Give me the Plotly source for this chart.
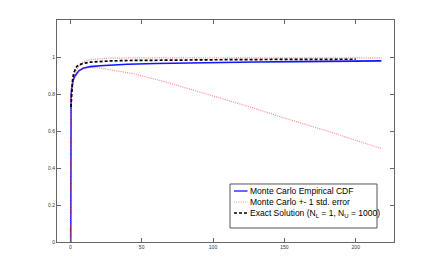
import plotly.graph_objects as go

# Monte Carlo empirical CDF (blue)
mc_x = [0.3, 0.3, 0.6, 1, 1.5, 2, 3, 4.5, 6, 9, 14, 21, 30, 40, 60, 80, 100, 130, 160, 190, 218]
mc_y = [0, 0.75, 0.80, 0.83, 0.855, 0.875, 0.895, 0.912, 0.925, 0.939, 0.948, 0.953, 0.957, 0.961, 0.965, 0.968, 0.970, 0.973, 0.975, 0.977, 0.979]

# +1 std. error (red dotted, upper)
up_x = [0.3, 0.3, 0.6, 1, 1.5, 2, 3, 4.5, 6, 9, 14, 20, 25, 40, 60, 100, 150, 218]
up_y = [0, 0.76, 0.81, 0.84, 0.865, 0.885, 0.91, 0.935, 0.952, 0.974, 0.986, 0.99, 0.993, 0.995, 0.995, 0.995, 0.995, 0.995]

# -1 std. error (red dotted, lower)
lo_x = [0.3, 0.3, 0.6, 1, 1.5, 2, 3, 4.5, 6.8, 10, 16, 21, 28, 35, 44, 55, 67, 80, 98, 126, 150, 180, 218]
lo_y = [0, 0.74, 0.79, 0.82, 0.845, 0.865, 0.885, 0.905, 0.932, 0.941, 0.943, 0.940, 0.933, 0.922, 0.910, 0.890, 0.865, 0.835, 0.795, 0.730, 0.670, 0.600, 0.505]

# Exact solution (black dashed)
ex_x = [0.5, 1, 1.7, 2.5, 3.5, 4.5, 6, 9, 14, 20, 28, 40, 60, 100, 150, 200]
ex_y = [0.73, 0.83, 0.885, 0.915, 0.935, 0.948, 0.956, 0.966, 0.972, 0.976, 0.979, 0.981, 0.983, 0.985, 0.987, 0.988]

x_ticks = [0, 50, 100, 150, 200]
y_ticks = [0, 0.2, 0.4, 0.6, 0.8, 1]
y_tick_text = ["0", "0.2", "0.4", "0.6", "0.8", "1"]

legend_labels = [
    "Monte Carlo Empirical CDF",
    "Monte Carlo +- 1 std. error",
    "Exact Solution (N<sub>L</sub> = 1, N<sub>U</sub> = 1000)",
]

BLUE = "#1414ff"
RED = "rgba(255,70,70,0.65)"
BLACK = "black"
DOT = "1px,1.2px"

fig = go.Figure()
fig.add_trace(go.Scatter(x=mc_x, y=mc_y, mode="lines", name=legend_labels[0],
                         line=dict(color=BLUE, width=1.6)))
fig.add_trace(go.Scatter(x=up_x, y=up_y, mode="lines", name=legend_labels[1],
                         line=dict(color=RED, width=1.2, dash=DOT)))
fig.add_trace(go.Scatter(x=lo_x, y=lo_y, mode="lines", name=legend_labels[1],
                         line=dict(color=RED, width=1.2, dash=DOT)))
fig.add_trace(go.Scatter(x=ex_x, y=ex_y, mode="lines", name=legend_labels[2],
                         line=dict(color=BLACK, width=1.7, dash="3px,2px")))

axis_common = dict(showline=True, linecolor="#666", linewidth=1, mirror="ticks",
                   ticks="inside", ticklen=4, tickcolor="#666", showgrid=False, zeroline=False,
                   tickfont=dict(size=5, color="#333", family="Liberation Sans"))

# Hand-drawn legend box (compact, MATLAB-like)
box_x0, box_x1, box_y0, box_y1 = 0.5134, 0.9496, 0.0631, 0.2613
row_y = [0.2297, 0.1802, 0.1306]
samp_x0, samp_x1, text_x = 0.5252, 0.5653, 0.5668
samp_styles = [dict(color=BLUE, width=1.3),
               dict(color=RED, width=1, dash=DOT),
               dict(color=BLACK, width=1.3, dash="3px,2px")]

shapes = [dict(type="rect", xref="paper", yref="paper", x0=box_x0, x1=box_x1,
               y0=box_y0, y1=box_y1, line=dict(color="#555", width=1),
               fillcolor="white", layer="above")]
annotations = []
for yy, st, lab in zip(row_y, samp_styles, legend_labels):
    shapes.append(dict(type="line", xref="paper", yref="paper", x0=samp_x0, x1=samp_x1,
                       y0=yy, y1=yy, line=st, layer="above"))
    annotations.append(dict(xref="paper", yref="paper", x=text_x, y=yy, text=lab,
                            showarrow=False, xanchor="left", yanchor="middle",
                            font=dict(size=8.5, family="Liberation Sans", color="black")))

fig.update_layout(
    width=428, height=265,
    margin=dict(l=49, r=42, t=12, b=31),
    plot_bgcolor="white", paper_bgcolor="white",
    xaxis=dict(range=[-9.3, 226.8], tickvals=x_ticks, **axis_common),
    yaxis=dict(range=[0, 1.2], tickvals=y_ticks, ticktext=y_tick_text, **axis_common),
    showlegend=False,
    shapes=shapes,
    annotations=annotations,
)

fig.write_html("out.html")
